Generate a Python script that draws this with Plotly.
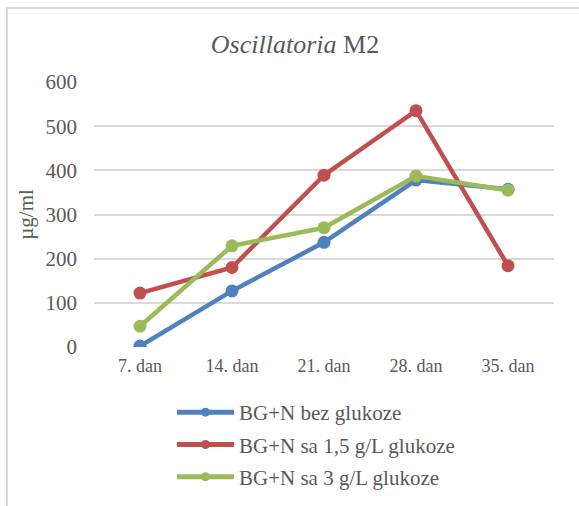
import plotly.graph_objects as go

# Sampling days and measured concentrations (µg/ml)
days = ["7. dan", "14. dan", "21. dan", "28. dan", "35. dan"]
bez_glukoze = [2, 127, 237, 378, 357]
sa_1_5_glukoze = [122, 180, 389, 535, 184]
sa_3_glukoze = [47, 229, 270, 387, 355]

series_names = ["BG+N bez glukoze", "BG+N sa 1,5 g/L glukoze", "BG+N sa 3 g/L glukoze"]
series_values = [bez_glukoze, sa_1_5_glukoze, sa_3_glukoze]
series_colors = ["#4f81bd", "#c0504d", "#9bbb59"]

FONT = "Liberation Serif, Times New Roman, serif"
GRAY = "#595959"

fig = go.Figure()
for i, (name, vals, col) in enumerate(zip(series_names, series_values, series_colors)):
    fig.add_trace(go.Scatter(
        x=days, y=vals, name=name, mode="lines+markers",
        line=dict(color=col, width=4.5),
        marker=dict(color=col, size=13),
        showlegend=False,
    ))
    # legend entry with a smaller marker symbol
    fig.add_trace(go.Scatter(
        x=[days[0]], y=[None], name=name, mode="lines+markers",
        line=dict(color=col, width=5),
        marker=dict(color=col, size=9),
        legendgroup=f"g{i}", showlegend=True, hoverinfo="skip",
    ))

W, H = 579, 506
L, R, T, B = 94, 25, 82, 159
pw, ph = W - L - R, H - T - B

fig.update_layout(
    width=W, height=H,
    margin=dict(l=L, r=R, t=T, b=B, autoexpand=False),
    paper_bgcolor="white", plot_bgcolor="white",
    font=dict(family=FONT, color=GRAY, size=16),
    title=dict(text="<i>Oscillatoria</i> M2", x=(295 / W), xanchor="center",
               y=1 - 44 / H, yanchor="middle",
               font=dict(family=FONT, size=26, color=GRAY)),
    xaxis=dict(range=[-0.5, len(days) - 0.5], autorange=False,
               showgrid=False, showline=False, zeroline=False, ticks="",
               ticklabelstandoff=6,
               tickfont=dict(size=18, color=GRAY, family=FONT)),
    yaxis=dict(range=[0, 600], dtick=100, showgrid=True, gridcolor="#d9d9d9",
               gridwidth=1.5, zeroline=False, showline=False, ticks="",
               ticklabelstandoff=16,
               tickfont=dict(size=21, color=GRAY, family=FONT),
               title=dict(text="µg/ml", standoff=6,
                          font=dict(size=21, color=GRAY, family=FONT))),
    legend=dict(orientation="v", x=(172 - L) / pw, xanchor="left",
                y=-(392 - T - ph) / ph, yanchor="top",
                traceorder="grouped", tracegroupgap=2,
                font=dict(size=21, color=GRAY, family=FONT),
                itemwidth=57),
    showlegend=True,
)

# Light chart frame around the whole figure
fig.add_shape(type="rect", xref="paper", yref="paper",
              x0=(7 - L) / pw, x1=(W + 10 - L) / pw,
              y0=-(H + 10 - T - ph) / ph, y1=1 + (T - 8) / ph,
              line=dict(color="#d9d9d9", width=2), fillcolor="rgba(0,0,0,0)",
              layer="below")

fig.write_html("out.html")
